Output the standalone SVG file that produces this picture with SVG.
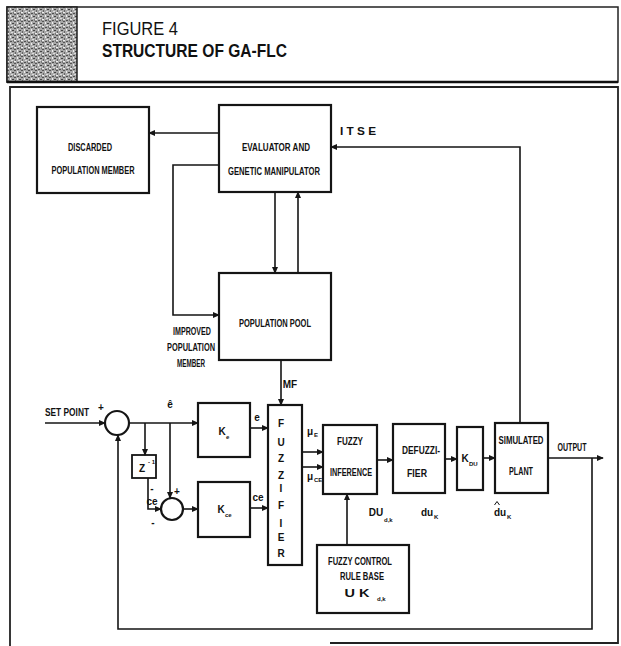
<svg xmlns="http://www.w3.org/2000/svg" width="621" height="646" viewBox="0 0 621 646">
<style>
.bx{fill:none;stroke:#151515;stroke-width:2.2}
.ln{fill:none;stroke:#151515;stroke-width:1.6}
.t{font-family:"Liberation Sans",Arial,sans-serif;font-size:10px;fill:#111;text-anchor:middle;font-weight:bold}
.s{font-family:"Liberation Sans",Arial,sans-serif;font-size:6px;fill:#111;font-weight:bold}
.h{font-family:"Liberation Sans",Arial,sans-serif;fill:#111}
</style>
<defs>
<marker id="ar" viewBox="0 0 8 8" refX="7" refY="4" markerWidth="7" markerHeight="7" orient="auto" markerUnits="userSpaceOnUse">
<path d="M0,0.5 L8,4 L0,7.5 z" fill="#151515"/>
</marker>
<pattern id="tx" width="7" height="7" patternUnits="userSpaceOnUse">
<rect width="7" height="7" fill="#a8a8a8"/>
<rect x="0" y="0" width="2" height="1" fill="#555"/>
<rect x="3" y="1" width="1" height="2" fill="#eee"/>
<rect x="5" y="2" width="2" height="1" fill="#444"/>
<rect x="1" y="3" width="1" height="2" fill="#666"/>
<rect x="4" y="4" width="2" height="1" fill="#ddd"/>
<rect x="0" y="5" width="2" height="1" fill="#eee"/>
<rect x="3" y="6" width="2" height="1" fill="#505050"/>
<rect x="6" y="5" width="1" height="2" fill="#777"/>
</pattern>
</defs>

<g id="header">
<rect x="7" y="7" width="611" height="75" fill="#fff" stroke="#222" stroke-width="1.5"/>
<rect x="7" y="7" width="70" height="75" fill="url(#tx)" stroke="#222" stroke-width="1.5"/>
<line x1="7" y1="82" x2="618" y2="82" stroke="#111" stroke-width="2.5"/>
<text class="h" x="102" y="35" font-size="19" textLength="76" lengthAdjust="spacingAndGlyphs">FIGURE 4</text>
<text class="h" x="102" y="57" font-size="19" font-weight="bold" textLength="185" lengthAdjust="spacingAndGlyphs">STRUCTURE OF GA-FLC</text>
</g>

<path id="frame" d="M10,646 V87 H618 V643 H330" fill="none" stroke="#222" stroke-width="1.8"/>

<g id="discarded">
<rect class="bx" x="37" y="107" width="112" height="86"/>
<text class="t" x="90" y="151" textLength="44" lengthAdjust="spacingAndGlyphs">DISCARDED</text>
<text class="t" x="93" y="174" textLength="83" lengthAdjust="spacingAndGlyphs">POPULATION MEMBER</text>
</g>

<g id="evaluator">
<rect class="bx" x="219" y="105" width="112" height="87"/>
<text class="t" x="276" y="151" textLength="68" lengthAdjust="spacingAndGlyphs">EVALUATOR  AND</text>
<text class="t" x="274" y="175" textLength="92" lengthAdjust="spacingAndGlyphs">GENETIC MANIPULATOR</text>
</g>

<g id="pool">
<rect class="bx" x="219" y="273" width="112" height="87"/>
<text class="t" x="275" y="327" textLength="72" lengthAdjust="spacingAndGlyphs">POPULATION POOL</text>
</g>

<g id="improved-label">
<text class="t" x="192" y="335" textLength="38" lengthAdjust="spacingAndGlyphs">IMPROVED</text>
<text class="t" x="191" y="351" textLength="48" lengthAdjust="spacingAndGlyphs">POPULATION</text>
<text class="t" x="191" y="367" textLength="28" lengthAdjust="spacingAndGlyphs">MEMBER</text>
</g>

<g id="sum1">
<circle cx="117" cy="423" r="12" class="bx"/>
</g>
<g id="sum2">
<circle cx="172" cy="509" r="11" class="bx"/>
</g>

<g id="zdelay">
<rect x="132" y="455" width="24" height="23" fill="none" stroke="#151515" stroke-width="1.8"/>
<text class="t" x="142" y="472" font-size="11">Z</text>
<text class="s" x="148" y="464">- 1</text>
</g>

<g id="ke">
<rect class="bx" x="198" y="403" width="52" height="54"/>
<text class="t" x="222" y="435" font-size="10">K</text>
<text class="s" x="226" y="439">e</text>
</g>

<g id="kce">
<rect class="bx" x="198" y="482" width="52" height="55"/>
<text class="t" x="221" y="513" font-size="10">K</text>
<text class="s" x="225" y="517">ce</text>
</g>

<g id="fuzzifier">
<rect class="bx" x="268" y="405" width="34" height="160"/>
<g class="t" font-size="10">
<text x="281" y="427">F</text>
<text x="281" y="446">U</text>
<text x="281" y="462">Z</text>
<text x="281" y="479">Z</text>
<text x="281" y="492">I</text>
<text x="281" y="509">F</text>
<text x="281" y="527">I</text>
<text x="281" y="541">E</text>
<text x="281" y="557">R</text>
</g>
</g>

<g id="inference">
<rect class="bx" x="323" y="425" width="54" height="69"/>
<text class="t" x="350" y="445" textLength="26" lengthAdjust="spacingAndGlyphs">FUZZY</text>
<text class="t" x="351" y="476" textLength="42" lengthAdjust="spacingAndGlyphs">INFERENCE</text>
</g>

<g id="defuzzifier">
<rect class="bx" x="393" y="424" width="52" height="69"/>
<text class="t" x="421" y="454" textLength="38" lengthAdjust="spacingAndGlyphs">DEFUZZI-</text>
<text class="t" x="417" y="477" textLength="20" lengthAdjust="spacingAndGlyphs">FIER</text>
</g>

<g id="kdu">
<rect class="bx" x="457" y="427" width="26" height="63"/>
<text class="t" x="465" y="462" font-size="10">K</text>
<text class="s" x="469" y="466">DU</text>
</g>

<g id="plant">
<rect class="bx" x="495" y="423" width="53" height="70"/>
<text class="t" x="521" y="444" textLength="45" lengthAdjust="spacingAndGlyphs">SIMULATED</text>
<text class="t" x="521" y="475" textLength="24" lengthAdjust="spacingAndGlyphs">PLANT</text>
</g>

<g id="rulebase">
<rect class="bx" x="317" y="545" width="92" height="68"/>
<text class="t" x="360" y="565" textLength="64" lengthAdjust="spacingAndGlyphs">FUZZY CONTROL</text>
<text class="t" x="362" y="580" textLength="44" lengthAdjust="spacingAndGlyphs">RULE BASE</text>
<text class="t" x="357" y="597" font-size="11" textLength="25" lengthAdjust="spacingAndGlyphs">U K</text>
<text class="s" x="377" y="601">d,k</text>
</g>

<g id="connectors">
<path class="ln" d="M219,133 H149" marker-end="url(#ar)"/>
<path class="ln" d="M219,165 H173 V315 H219" marker-end="url(#ar)"/>
<path class="ln" d="M275,192 V273" marker-end="url(#ar)"/>
<path class="ln" d="M298,273 V192" marker-end="url(#ar)"/>
<path class="ln" d="M281,360 V405" marker-end="url(#ar)"/>
<path class="ln" d="M520,423 V147 H331" marker-end="url(#ar)"/>
<path class="ln" d="M45,423 H105" marker-end="url(#ar)"/>
<path class="ln" d="M129,423 H198" marker-end="url(#ar)"/>
<path class="ln" d="M145,423 V455" marker-end="url(#ar)"/>
<path class="ln" d="M170,423 V498" marker-end="url(#ar)"/>
<path class="ln" d="M148,478 V509 H161" marker-end="url(#ar)"/>
<path class="ln" d="M183,509 H198" marker-end="url(#ar)"/>
<path class="ln" d="M250,428 H268" marker-end="url(#ar)"/>
<path class="ln" d="M250,508 H268" marker-end="url(#ar)"/>
<path class="ln" d="M302,452 H323" marker-end="url(#ar)"/>
<path class="ln" d="M302,467 H323" marker-end="url(#ar)"/>
<path class="ln" d="M377,460 H393" marker-end="url(#ar)"/>
<path class="ln" d="M445,459 H457" marker-end="url(#ar)"/>
<path class="ln" d="M483,458 H495" marker-end="url(#ar)"/>
<path class="ln" d="M548,458 H603" marker-end="url(#ar)"/>
<path class="ln" d="M592,458 V629 H118 V435" marker-end="url(#ar)"/>
<path class="ln" d="M347,545 V494" stroke-width="2.4" marker-end="url(#ar)"/>
</g>

<g id="labels">
<text class="t" x="358" y="135" textLength="36" lengthAdjust="spacingAndGlyphs">I T S E</text>
<text class="t" x="290" y="388" font-size="7">MF</text>
<text class="t" x="67" y="416" textLength="44" lengthAdjust="spacingAndGlyphs">SET POINT</text>
<text class="t" x="101" y="411">+</text>
<text class="t" x="170" y="408" font-size="12">ê</text>
<text class="t" x="257" y="421" font-size="8">e</text>
<text class="t" x="258" y="501" font-size="7">ce</text>
<text class="t" x="152" y="492" font-size="8">-</text>
<text class="t" x="152" y="505" font-size="7">ce</text>
<text class="t" x="153" y="526" font-size="8">-</text>
<text class="t" x="177" y="495" font-size="7">+</text>
<text class="t" x="310" y="435" font-size="11">μ</text>
<text class="s" x="314" y="437">E</text>
<text class="t" x="310" y="480" font-size="11">μ</text>
<text class="s" x="314" y="482">CE</text>
<text class="t" x="376" y="516" font-size="9">DU</text>
<text class="s" x="384" y="522">d,k</text>
<text class="t" x="427" y="516" font-size="8">du</text>
<text class="s" x="434" y="519">K</text>
<text class="t" x="500" y="516" font-size="9">du</text>
<path d="M494.5,505 L497,501.5 L499.5,505" fill="none" stroke="#111" stroke-width="1"/>
<text class="s" x="507" y="519">K</text>
<text class="t" x="572" y="451" textLength="29" lengthAdjust="spacingAndGlyphs">OUTPUT</text>
</g>
</svg>
